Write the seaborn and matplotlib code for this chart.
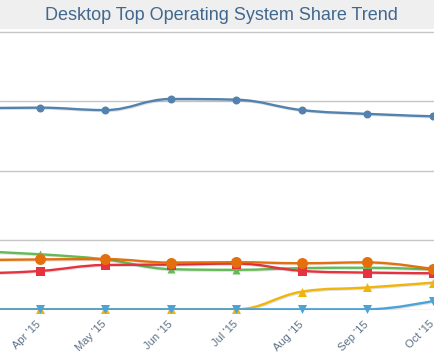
import numpy as np
import pandas as pd
import matplotlib
matplotlib.use("Agg")
import matplotlib.pyplot as plt
import seaborn as sns
from matplotlib.path import Path
from matplotlib.patches import PathPatch
import matplotlib.patheffects as pe

# ---- data ----
months = ["Mar '15", "Apr '15", "May '15", "Jun '15", "Jul '15", "Aug '15", "Sep '15", "Oct '15"]
series_names = ["Windows 7", "Windows XP", "Windows 8", "Windows 8.1", "Windows 10", "Mac OS X 10.11"]
win7 = [58.0, 58.2, 57.5, 60.7, 60.5, 57.5, 56.4, 55.7]
winxp = [16.8, 15.9, 14.4, 11.6, 11.4, 11.9, 12.0, 11.5]
win8 = [10.3, 11.05, 12.8, 12.9, 13.2, 11.1, 10.6, 10.4]
win81 = [14.2, 14.4, 14.5, 13.5, 13.6, 13.3, 13.55, 11.6]
win10 = [0.0, 0.0, 0.0, 0.0, 0.0, 5.1, 6.3, 7.7]
osx1011 = [0.0, 0.0, 0.0, 0.0, 0.0, 0.0, 0.0, 2.4]
y_ticks = [20, 40, 60, 80]

colors = ["#5282ad", "#66b958", "#e6323f", "#e3700d", "#f0b50a", "#4ba3d8"]
markers = ["o", "^", "s", "o", "^", "v"]
msizes = [8, 8, 9, 11, 9, 9]  # pixels

values = [win7, winxp, win8, win81, win10, osx1011]
df = pd.DataFrame({"month": np.tile(months, len(series_names)),
                   "x": np.tile(np.arange(len(months)), len(series_names)),
                   "share": np.concatenate(values),
                   "os": np.repeat(series_names, len(months))})

# ---- figure ----
sns.set_style("white")
plt.rcParams['font.family'] = ['Liberation Sans', 'DejaVu Sans']
W, H = 434, 358
fig = plt.figure(figsize=(W / 100, H / 100), dpi=100)
fig.patch.set_facecolor("white")

top_px, bot_px = 29, 310
ax = fig.add_axes([0, (H - bot_px) / H, 1, (bot_px - top_px) / H])
ax.set_facecolor("white")

# title band
fig.patches.append(matplotlib.patches.Rectangle((0, 1 - top_px / H), 1, top_px / H,
                                                 transform=fig.transFigure, facecolor="#efefef",
                                                 edgecolor="none", zorder=0))
fig.text(221 / W, 1 - 15.5 / H, "Desktop Top Operating System Share Trend",
         ha="center", va="center", fontsize=13, color="#40688f")

px_per_unit = 3.465
per_cat = 65.58
ylim = (-0.2, -0.2 + (bot_px - top_px) / px_per_unit)
xlim = (1 - 39.5 / per_cat, 7 + 1 / per_cat)


def spline_path(xs, ys, smoothing=1.5):
    denom = smoothing + 1
    n = len(xs)
    lc = [None] * n
    rc = [None] * n
    for i in range(n):
        px, py = xs[i], ys[i]
        if i == 0 or i == n - 1:
            lc[i] = (px, py)
            rc[i] = (px, py)
            continue
        lx, ly = xs[i - 1], ys[i - 1]
        nx, ny = xs[i + 1], ys[i + 1]
        lcx = (smoothing * px + lx) / denom
        lcy = (smoothing * py + ly) / denom
        rcx = (smoothing * px + nx) / denom
        rcy = (smoothing * py + ny) / denom
        corr = ((rcy - lcy) * (rcx - px)) / (rcx - lcx) + py - rcy
        lcy += corr
        rcy += corr
        if lcy > ly and lcy > py:
            lcy = max(ly, py); rcy = 2 * py - lcy
        elif lcy < ly and lcy < py:
            lcy = min(ly, py); rcy = 2 * py - lcy
        if rcy > ny and rcy > py:
            rcy = max(ny, py); lcy = 2 * py - rcy
        elif rcy < ny and rcy < py:
            rcy = min(ny, py); lcy = 2 * py - rcy
        lc[i] = (lcx, lcy)
        rc[i] = (rcx, rcy)
    verts = [(xs[0], ys[0])]
    codes = [Path.MOVETO]
    for i in range(1, n):
        verts += [rc[i - 1], lc[i], (xs[i], ys[i])]
        codes += [Path.CURVE4] * 3
    return Path(verts, codes)


xs = list(range(len(months)))
for k, (name, vals) in enumerate(zip(series_names, values)):
    path = spline_path(xs, vals)
    patch = PathPatch(path, facecolor="none", edgecolor=colors[k], lw=1.7,
                      zorder=3 + 2 * k, transform=ax.transData, capstyle="round",
                      joinstyle="round")
    patch.set_path_effects([pe.SimpleLineShadow(offset=(0.7, -0.7), shadow_color="black", alpha=0.12),
                            pe.Normal()])
    ax.add_patch(patch)
    sub = df[df["os"] == name]
    sns.scatterplot(data=sub, x="x", y="share", marker=markers[k], color=colors[k],
                    s=(msizes[k] * 0.72) ** 2, linewidth=0, ax=ax, zorder=4 + 2 * k,
                    clip_on=False, legend=False)

ax.set_xlim(*xlim)
ax.set_ylim(*ylim)
for s in ax.spines.values():
    s.set_visible(False)
ax.set_yticks(y_ticks)
ax.yaxis.grid(True, color="#c6c6c6", lw=1.0)
ax.set_yticklabels([])
ax.tick_params(axis="y", length=0)
ax.axhline(ylim[0] + 0.1, color="#c0d0e0", lw=1.0, zorder=2)

ax.set_xlabel("")
ax.set_ylabel("")
# ticks between categories, labels at categories
ax.set_xticks(np.arange(0.5, len(months) - 0.5, 1.0))
ax.set_xticklabels([])
ax.tick_params(axis="x", which="major", length=3.6, width=0.8, color="#c0d0e0", direction="out")
ax.set_xticks(xs[1:], minor=True)
ax.set_xticklabels(months[1:], minor=True, rotation=45, ha="right", va="center",
                   rotation_mode="anchor", fontsize=8, color="#5d7186")
ax.tick_params(axis="x", which="minor", length=0, pad=9)
ax.set_xlim(*xlim)

fig.savefig("out.png", dpi=100)
